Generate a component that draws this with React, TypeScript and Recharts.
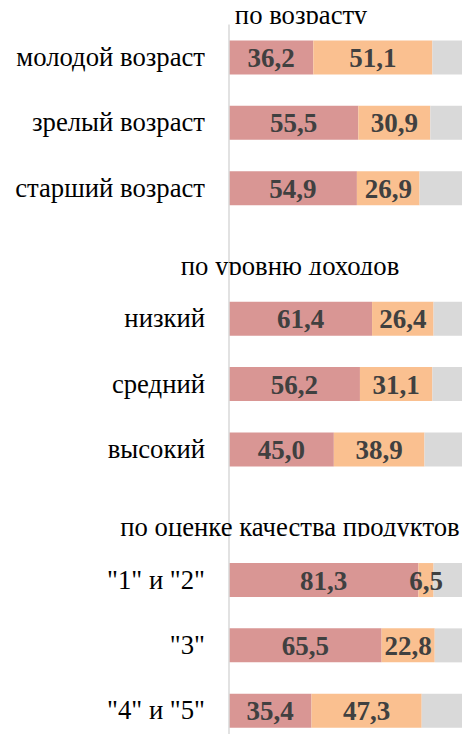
import { BarChart, Bar, XAxis, YAxis, LabelList } from "recharts"

const ageLabels = ["молодой возраст", "зрелый возраст", "старший возраст"]
const incomeLabels = ["низкий", "средний", "высокий"]
const qualityLabels = ['"1" и "2"', '"3"', '"4" и "5"']
const groupTitles = ["по возрасту", "по уровню доходов", "по оценке качества продуктов"]

const firstShare = [36.2, 55.5, 54.9, 61.4, 56.2, 45.0, 81.3, 65.5, 35.4]
const secondShare = [51.1, 30.9, 26.9, 26.4, 31.1, 38.9, 6.5, 22.8, 47.3]

const FONT = "Liberation Serif, Times New Roman, serif"

// first title sits above the plot, the other two get an empty row of their own
const rows: any[] = []
let k = 0
;[ageLabels, incomeLabels, qualityLabels].forEach((labels, g) => {
  if (g > 0) rows.push({ name: groupTitles[g], title: true })
  labels.forEach((name) => {
    const a = firstShare[k]
    const b = secondShare[k]
    rows.push({ name, first: a, second: b, rest: +(100 - a - b).toFixed(1) })
    k++
  })
})

const fmt = (v: any) => (typeof v === "number" ? v.toFixed(1).replace(".", ",") : "")

const textStyle = { fontFamily: FONT, fontSize: 26.7, fill: "#000" }

function CategoryTick({ y, payload, index }: any) {
  if (groupTitles.includes(payload.value)) {
    const id = `title-clip-${index}`
    return (
      <g>
        <defs>
          <clipPath id={id}>
            <rect x={0} y={y - 40} width={465} height={62} />
          </clipPath>
        </defs>
        <text x={290} y={y + 22} textAnchor="middle" clipPath={`url(#${id})`} style={textStyle}>
          {payload.value}
        </text>
      </g>
    )
  }
  return (
    <text x={205} y={y + 9} textAnchor="end" style={textStyle}>
      {payload.value}
    </text>
  )
}

const labelStyle = { fill: "#404040", fontSize: 27, fontWeight: "bold", fontFamily: FONT }

export default function App() {
  return (
    <div style={{ position: "absolute", left: 0, top: 0, width: 465, height: 734, overflow: "hidden", background: "#fff" }}>
      <BarChart width={465} height={743} data={rows} layout="vertical"
        margin={{ top: 24.5, right: 3, bottom: 0, left: 0 }}>
        <defs>
          <clipPath id="top-title-clip">
            <rect x={0} y={-20} width={465} height={44} />
          </clipPath>
        </defs>
        <text x={301} y={24} textAnchor="middle" clipPath="url(#top-title-clip)" style={textStyle}>
          {groupTitles[0]}
        </text>
        <XAxis type="number" domain={[0, 100]} hide />
        <YAxis type="category" dataKey="name" width={229} interval={0} tickLine={false}
          axisLine={{ stroke: "#D9D9D9", strokeWidth: 1.5 }}
          tick={(p: any) => <CategoryTick {...p} />} />
        <Bar dataKey="first" stackId="s" fill="#D99694" barSize={34} isAnimationActive={false}>
          <LabelList dataKey="first" position="center" formatter={fmt} style={labelStyle} />
        </Bar>
        <Bar dataKey="second" stackId="s" fill="#FAC090" barSize={34} isAnimationActive={false}>
          <LabelList dataKey="second" position="center" formatter={fmt} style={labelStyle} />
        </Bar>
        <Bar dataKey="rest" stackId="s" fill="#D9D9D9" barSize={34} isAnimationActive={false} />
      </BarChart>
    </div>
  )
}
